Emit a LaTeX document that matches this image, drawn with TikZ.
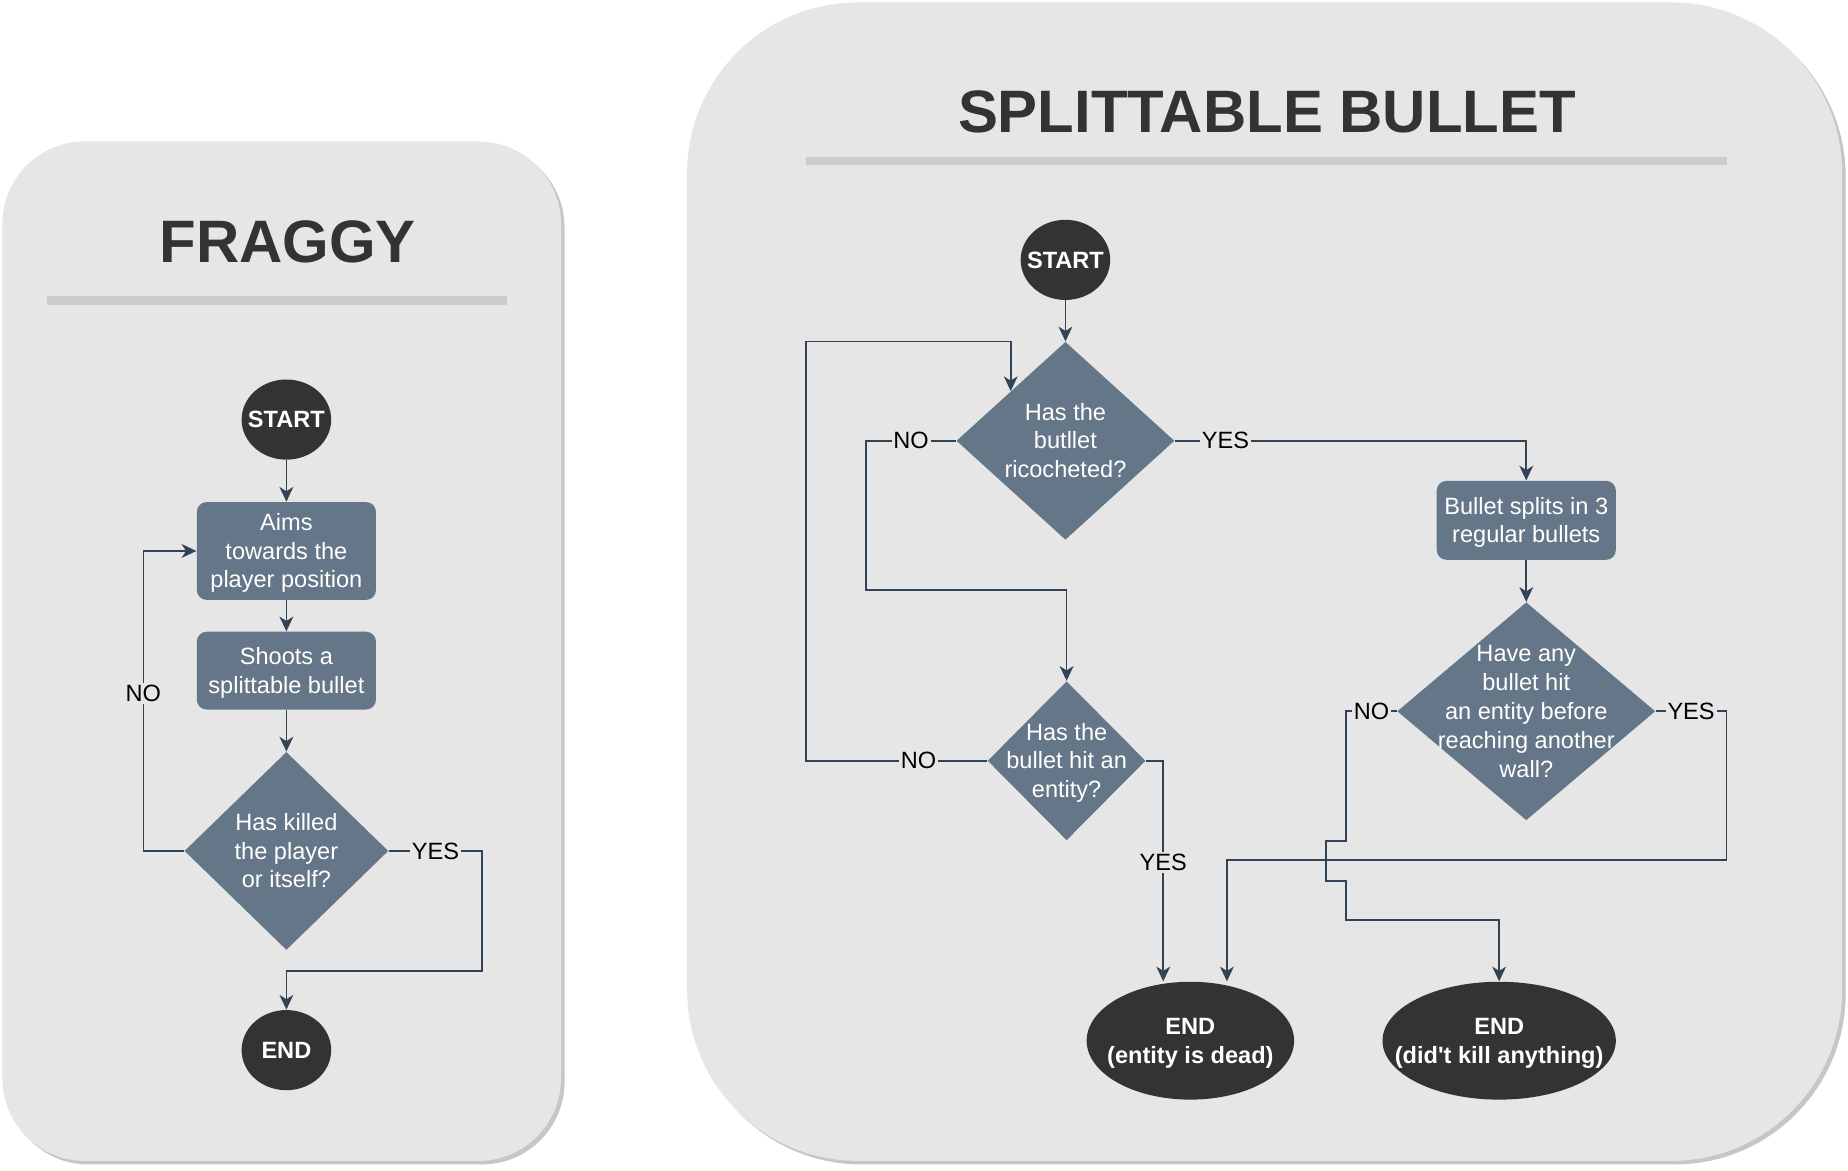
\documentclass[tikz,border=0pt]{standalone}
\usepackage{fontspec}
\setmainfont{Liberation Sans}
\usetikzlibrary{shapes.geometric,arrows.meta,calc}

\definecolor{panelGray}{HTML}{E6E6E6}
\definecolor{shadowGray}{HTML}{C6C6C6}
\definecolor{ruleGray}{HTML}{CCCCCC}
\definecolor{darkFill}{HTML}{333333}
\definecolor{stepFill}{HTML}{647687}
\definecolor{lineBlue}{HTML}{314354}

\def \bodyFont {\fontsize{12}{14.7}\selectfont}
\def \headFont {\fontsize{30.5}{36}\selectfont\bfseries}
\def \cellLines #1{\makebox[0pt]{\raisebox{-1.2pt}[\height][\depth]{\begin{tabular}{@{}c@{}}#1\end{tabular}}}}

\tikzset{
  panel/.style={fill=panelGray, rounded corners=#1},
  panelshadow/.style={fill=shadowGray, rounded corners=#1},
  heading/.style={text=darkFill, font=\headFont, anchor=base, inner sep=0pt},
  headrule/.style={draw=ruleGray, line width=4.2pt},
  terminal/.style={ellipse, fill=darkFill, text=white, font=\bodyFont\bfseries, inner sep=0pt},
  process/.style={rectangle, rounded corners=5pt, fill=stepFill, text=white, font=\bodyFont, minimum width=91.2pt, inner sep=0pt},
  decision/.style={diamond, fill=stepFill, text=white, font=\bodyFont, inner sep=0pt},
  flow/.style={draw=lineBlue, line width=0.85pt, -{Stealth[length=7.5pt,width=7pt,inset=2.2pt]}},
  answer/.style={fill=panelGray, text=black, font=\bodyFont, inner sep=1pt}
}

\begin{document}
\begin{tikzpicture}[x=0.6pt, y=-0.6pt]
         \useasboundingbox (0,0) rectangle (1568,993);
         \path[panelshadow=42pt] (5,123) rectangle (479,988);
         \path[panel=42pt] (2,120) rectangle (476,985);
         \path[panelshadow=87pt] (586,5) rectangle (1566,988);
         \path[panel=87pt] (583,2) rectangle (1563,985);

         \node[heading] (fraggyTitle) at (244,222.6) {FRAGGY};
         \draw[headrule] (40,255) -- (430,255);
         \node[heading] (splitTitle) at (1075,112.3) {SPLITTABLE BULLET};
         \draw[headrule] (684,136.6) -- (1465,136.6);

         \node[terminal, minimum width=45.6pt, minimum height=40.8pt] (startF) at (243,356) {\cellLines{START}};
         \node[process, minimum height=49.8pt] (aims) at (243,467.5) {\cellLines{Aims\\towards the\\player position}};
         \node[process, minimum height=39.6pt] (shoots) at (243,569) {\cellLines{Shoots a\\splittable bullet}};
         \node[decision, minimum width=103.8pt, minimum height=100.8pt] (killed) at (243,722) {\cellLines{Has killed\\the player\\or itself?}};
         \node[terminal, minimum width=45.6pt, minimum height=40.8pt] (endF) at (243,891) {\cellLines{END}};

         \draw[flow] (startF) -- (aims);
         \draw[flow] (aims) -- (shoots);
         \draw[flow] (shoots) -- (killed);
         \draw[flow] (killed.west) -| node[answer, pos=0.762] {NO} ($(aims.west)+(-45,0)$) -- (aims.west);
         \draw[flow] (killed.east) -| node[answer, pos=0.25] {YES} (409,824) -| (endF.north);

         \node[terminal, minimum width=45.6pt, minimum height=40.8pt] (startS) at (904,220.5) {\cellLines{START}};
         \node[decision, minimum width=111pt, minimum height=100.8pt] (ricochet) at (904,374) {\cellLines{Has the\\butllet\\ricocheted?}};
         \node[decision, minimum width=80.4pt, minimum height=81pt] (hitEntity) at (905,645.5) {\cellLines{Has the\\bullet hit an\\entity?}};
         \node[process, minimum height=40.2pt] (split) at (1295,441.5) {\cellLines{Bullet splits in 3\\regular bullets}};
         \node[decision, minimum width=131.4pt, minimum height=111pt] (anyHit) at (1295,603.5) {\cellLines{Have any\\bullet hit\\an entity before\\reaching another\\wall?}};
         \node[terminal, minimum width=105.6pt, minimum height=60pt] (endDead) at (1010,883) {\cellLines{END\\(entity is dead)}};
         \node[terminal, minimum width=118.8pt, minimum height=60pt] (endMiss) at (1272,883) {\cellLines{END\\(did\textquotesingle t kill anything)}};

         \draw[flow] (startS) -- (ricochet);
         \draw[flow] (ricochet.east) -| node[answer, pos=0.072] {YES} (split.north);
         \draw[flow] (split) -- (anyHit);
         \draw[flow] (ricochet.west) -| node[answer, pos=0.25] {NO} ($(hitEntity.north)+(-170,-77)$) -| (hitEntity.north);
         \draw[flow] (hitEntity.west) -| node[answer, pos=0.19] {NO} ($(ricochet.north)+(-220,0)$) -| (ricochet.north west);
         \draw[flow] (hitEntity.east) -| node[answer, pos=0.73] {YES} ($(endDead.north)+(-23,0)$);
         \draw[flow] (anyHit.east) -- node[answer, midway] {YES} ++(60,0) |- ($(endDead.north)+(31,-103)$) -- ($(endDead.north)+(31,0)$);
         \draw[flow] (anyHit.west) -- node[answer, midway] {NO} ++(-43,0) -- ++(0,110) -- ++(-17,0) -- ++(0,34) -- ++(17,0) |- ($(endMiss.north)+(0,-52)$) -- (endMiss.north);
      \end{tikzpicture}
\end{document}
